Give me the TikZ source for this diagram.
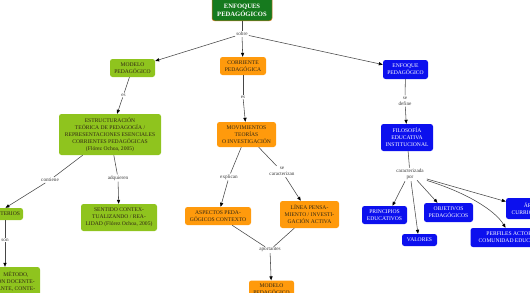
\documentclass[tikz,border=0pt]{standalone}
\usepackage{fontspec}
\setmainfont{Liberation Serif}
\usetikzlibrary{arrows.meta,calc}
\definecolor{lgreen}{RGB}{143,196,30}
\definecolor{orng}{RGB}{255,154,12}
\definecolor{blu}{RGB}{12,16,238}
\definecolor{dgreen}{RGB}{22,122,30}
\definecolor{edgeor}{RGB}{214,120,30}
\definecolor{lnc}{RGB}{70,70,70}
\definecolor{txd}{RGB}{50,40,20}
\definecolor{lbltxt}{RGB}{60,60,60}
\newcommand\nfont{\fontsize{5.6}{7}\selectfont}
\newcommand\lfont{\fontsize{5.2}{6.4}\selectfont}
\newcommand\tfont{\fontsize{6.6}{8}\selectfont\bfseries}
\begin{document}
\begin{tikzpicture}[x=1pt,y=-1pt,
  box/.style={rounded corners=2.5pt, inner sep=1pt, align=center, font=\nfont},
  lg/.style={box, fill=lgreen, text=txd},
  og/.style={box, fill=orng, text=txd},
  bl/.style={box, fill=blu, text=white},
  lbl/.style={font=\lfont, text=lbltxt, inner sep=1pt, align=center},
  ln/.style={draw=lnc, line width=0.55pt},
  arr/.style={ln, -{Triangle[length=4pt,width=3.2pt,color=black]}}]
\useasboundingbox (0,0) rectangle (530,292);
\clip (0,0) rectangle (530,292);

% top node
\node[fill=dgreen, draw=edgeor, line width=0.5pt, rounded corners=2.5pt,
      minimum width=60pt, minimum height=40pt, anchor=south] (top) at (242,21) {};
\node[font=\tfont, text=white, align=center, inner sep=0pt] (toptxt) at (242,10) {ENFOQUES\\PEDAGÓGICOS};

% level 1
\node[lg, minimum width=45pt, minimum height=18pt] (mod) at (132.5,68) {MODELO\\PEDAGÓGICO};
\node[og, minimum width=46pt, minimum height=18pt] (cor) at (243,66) {CORRIENTE\\PEDAGÓGICA};
\node[bl, minimum width=45pt, minimum height=19pt] (enf) at (405.5,69.5) {ENFOQUE\\PEDAGÓGICO};

% level 2
\node[lg, minimum width=102pt, minimum height=41pt] (est) at (110,134.5)
  {ESTRUCTURACIÓN\\TEÓRICA DE PEDAGOGÍA /\\REPRESENTACIONES ESENCIALES\\CORRIENTES PEDAGÓGICAS\\(Flórez Ochoa, 2005)};
\node[og, minimum width=59pt, minimum height=25pt] (mov) at (246.5,134.5) {MOVIMIENTOS\\TEORÍAS\\O INVESTIGACIÓN};
\node[bl, minimum width=52pt, minimum height=27pt] (fil) at (407,137.5) {FILOSOFÍA\\EDUCATIVA\\INSTITUCIONAL};

% level 3
\node[lg, minimum width=35pt, minimum height=12pt] (crit) at (5.5,214) {CRITERIOS};
\node[lg, minimum width=76pt, minimum height=27pt] (sen) at (119,217.5)
  {SENTIDO CONTEX-\\TUALIZANDO / REA-\\LIDAD (Flórez Ochoa, 2005)};
\node[lg, minimum width=48pt, minimum height=30pt] (met) at (16,282) {MÉTODO,\\ÓN DOCENTE-\\ANTE, CONTE-};
\node[og, minimum width=66pt, minimum height=18pt] (asp) at (218,216) {ASPECTOS PEDA-\\GÓGICOS CONTEXTO};
\node[og, minimum width=59pt, minimum height=27pt] (lin) at (309.5,214.5) {LÍNEA PENSA-\\MIENTO / INVESTI-\\GACIÓN ACTIVA};
\node[og, minimum width=45pt, minimum height=18pt] (mod2) at (271.5,289.5) {MODELO\\PEDAGÓGICO};
\node[bl, minimum width=45pt, minimum height=18pt] (pri) at (384.5,215) {PRINCIPIOS\\EDUCATIVOS};
\node[bl, minimum width=35pt, minimum height=12pt] (val) at (419.5,240) {VALORES};
\node[bl, minimum width=49pt, minimum height=19pt] (obj) at (448.5,212.5) {OBJETIVOS\\PEDAGÓGICOS};
\node[bl, minimum width=54pt, minimum height=21pt] (are) at (533,208.5) {ÁREAS\\CURRICULARES};
\node[bl, minimum width=84pt, minimum height=19pt] (per) at (512.5,237.5) {PERFILES ACTORES\\COMUNIDAD EDUCATIVA};

% labels
\node[lbl] (sobre) at (242,34) {sobre};
\node[lbl] (es1) at (123.5,95) {es};
\node[lbl] (es2) at (243,97) {es};
\node[lbl] (sdef) at (405,101) {se\\define};
\node[lbl] (cont) at (50,180) {contiene};
\node[lbl] (adq) at (118,178) {adquieren};
\node[lbl] (son) at (5,240) {son};
\node[lbl] (exp) at (229,177) {explican};
\node[lbl] (scar) at (282,171.5) {se\\caracterizan};
\node[lbl] (apo) at (270,250) {aportantes};
\node[lbl] (cp) at (410,174.5) {caracterizada\\por};

% connectors
\draw[ln] (top.south) -- (sobre);
\draw[arr] (sobre) -- (mod);
\draw[arr] (sobre) -- (cor);
\draw[arr] (sobre) -- (enf);

\draw[ln] (mod) -- (es1);
\draw[arr] (es1) -- (est);
\draw[ln] (cor) -- (es2);
\draw[arr] (es2) -- (mov);
\draw[ln] (enf) -- (sdef);
\draw[arr] (sdef) -- (fil);

\draw[ln] (est) -- (cont);
\draw[arr] (cont) -- (crit.north);
\draw[ln] (est) -- (adq);
\draw[arr] (adq) -- (sen);
\draw[ln] (crit.south -| son) -- (son);
\draw[arr] (son) -- (son |- met.north);

\draw[ln] (mov) -- (exp);
\draw[arr] (exp) -- (asp);
\draw[ln] (mov) -- (scar);
\draw[arr] (scar) -- (lin);
\draw[ln] (asp) -- (apo);
\draw[ln] (lin) -- (apo);
\draw[arr] (apo) -- (mod2);

\draw[ln] (fil) -- (cp);
\draw[arr] ($(cp.south)+(-5,0)$) -- ($(pri.north)+(8,0)$);
\draw[arr] ($(cp.south)+(1,0)$) -- ($(val.north)+(-1.5,0)$);
\draw[arr] ($(cp.south)+(7,-1)$) -- ($(obj.north)+(-11,0)$);
\draw[arr] ($(cp.east)+(2,4.5)$) -- ($(are.west)+(0,-7)$);
\draw[arr] ($(cp.east)+(2,6)$) .. controls (465,192) and (495,210) .. ($(per.north)+(-7,0)$);
\end{tikzpicture}
\end{document}
